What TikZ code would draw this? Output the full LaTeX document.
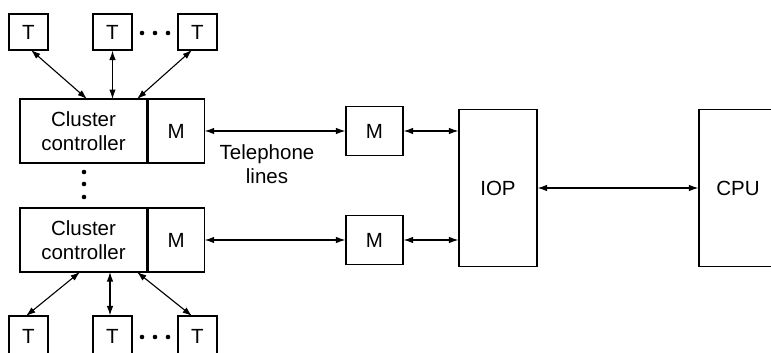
\documentclass[tikz,border=0pt]{standalone}
\usepackage{fontspec}
\setmainfont{Liberation Sans}
\usetikzlibrary{arrows.meta}

\begin{document}
\begin{tikzpicture}[
  x=1pt, y=-1pt,
  line width=1.1pt,
  font=\fontsize{20.5}{24.5}\selectfont,
  box/.style={draw, inner sep=0pt, align=center},
  term/.style={box, minimum width=39, minimum height=36},
  link/.style={{Latex[length=9.5pt,width=6.5pt]}-{Latex[length=9.5pt,width=6.5pt]}},
]
\clip (0,0) rectangle (771,353);

% terminals above the first cluster controller
\node[term] (t1) at (28.5,32) {T};
\node[term] (t2) at (112.5,32) {T};
\node[term] (t3) at (197.5,32) {T};
\foreach \x in {142,155,168} \fill (\x,33) circle (2.3);

% first cluster controller with its modem
\node[box, minimum width=127, minimum height=64] (cc1) at (83.5,131) {Cluster\\controller};
\node[box, minimum width=56, minimum height=64, anchor=west] (cm1) at (cc1.east) {M};

% vertical dots
\foreach \y in {172,184,197} \fill (84,\y) circle (2.3);

% second cluster controller with its modem
\node[box, minimum width=127, minimum height=64] (cc2) at (83.5,240) {Cluster\\controller};
\node[box, minimum width=56, minimum height=64, anchor=west] (cm2) at (cc2.east) {M};

% terminals below the second cluster controller
\node[term, minimum height=40] (t4) at (28.5,336) {T};
\node[term, minimum height=40] (t5) at (112.5,336) {T};
\node[term, minimum height=40] (t6) at (197.5,336) {T};
\foreach \x in {142,155,168} \fill (\x,337) circle (2.3);

% modems at the far end of the lines
\node[box, minimum width=57, minimum height=49] (m3) at (374.5,131) {M};
\node[box, minimum width=57, minimum height=49] (m4) at (374.5,240) {M};

% IOP and CPU
\node[box, minimum width=78, minimum height=157] (iop) at (498,188) {IOP};
\node[box, minimum width=78, minimum height=157] (cpu) at (738,188) {CPU};

% label of the lines
\node[align=center, inner sep=0pt] (tel) at (267,164) {Telephone\\lines};

% terminal links, top
\coordinate (a1) at (87,99);
\coordinate (a2) at (112.5,99);
\coordinate (a3) at (137,99);
\coordinate (b1) at (31,50);
\coordinate (b3) at (192,50);
\draw[link] (b1) -- (a1);
\draw[link] (t2.south) -- (a2);
\draw[link] (b3) -- (a3);

% terminal links, bottom
\coordinate (c1) at (80,272);
\coordinate (c2) at (110,272);
\coordinate (c3) at (137,272);
\coordinate (d1) at (26,316);
\coordinate (d3) at (192,316);
\draw[link] (c1) -- (d1);
\draw[link] (c2) -- (t5.north -| c2);
\draw[link] (c3) -- (d3);

% telephone lines
\draw[link] (cm1.east) -- (m3.west);
\draw[link] (cm2.east) -- (m4.west);

% modems to IOP, IOP to CPU
\draw[link] (m3.east) -- (m3.east -| iop.west);
\draw[link] (m4.east) -- (m4.east -| iop.west);
\draw[link] (iop.east) -- (cpu.west);

\end{tikzpicture}
\end{document}
